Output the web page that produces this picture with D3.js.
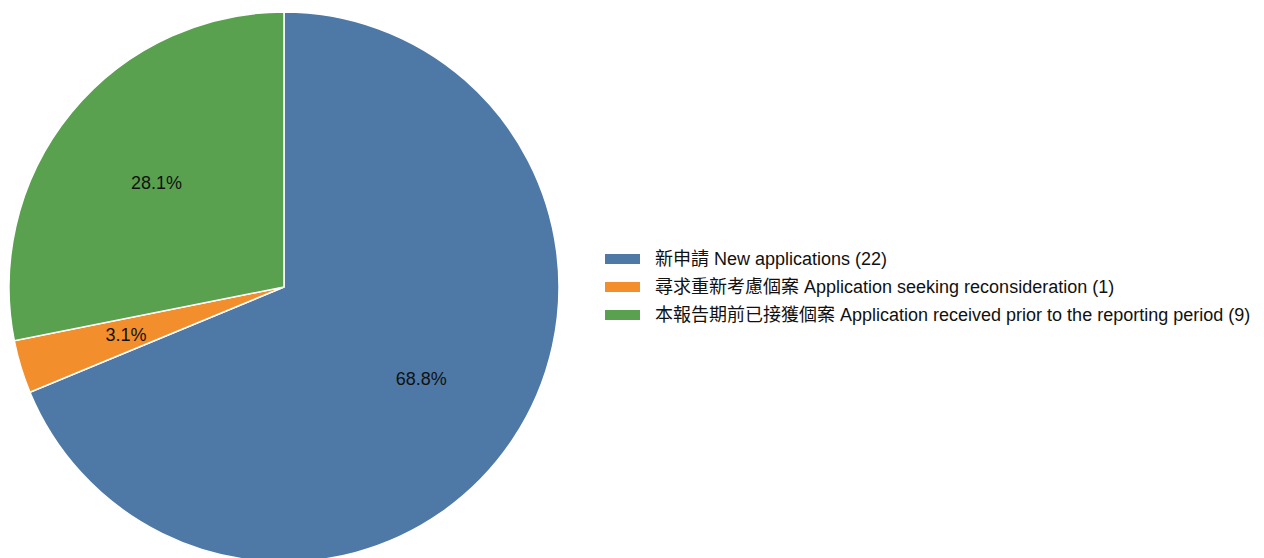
<!DOCTYPE html>
<html><head><meta charset="utf-8">
<script src="https://cdn.jsdelivr.net/npm/d3@7"></script>
<style>html,body{margin:0;padding:0;background:#fff;overflow:hidden}</style>
</head><body>
<svg id="c" width="1264" height="558"></svg>
<script>
const categories = ["新申請 New applications (22)", "尋求重新考慮個案 Application seeking reconsideration (1)", "本報告期前已接獲個案 Application received prior to the reporting period (9)"];
const values = [22, 1, 9];
const colors = ["#4e79a7", "#f28e2b", "#59a14f"];

const svg = d3.select("#c");
const cx = 284, cy = 287, R = 275;
const total = d3.sum(values);
const pie = d3.pie().sort(null).value(d => d);
const arcs = pie(values);
const arc = d3.arc().innerRadius(0).outerRadius(R);
const labelArc = d3.arc().innerRadius(R * 0.6).outerRadius(R * 0.6);
const g = svg.append("g").attr("transform", `translate(${cx},${cy})`);
g.selectAll("path").data(arcs).join("path")
  .attr("d", arc).attr("fill", (d, i) => colors[i])
  .attr("stroke", "#fff").attr("stroke-width", 1.5);
g.selectAll("text").data(arcs).join("text")
  .attr("transform", d => `translate(${labelArc.centroid(d)})`)
  .attr("text-anchor", "middle").attr("dy", "0.35em")
  .attr("font-family", "Liberation Sans, Arial, sans-serif").attr("font-size", 18)
  .attr("fill", "#111")
  .text(d => (d.value / total * 100).toFixed(1) + "%");

const lg = svg.append("g").attr("transform", "translate(605,259)");
const items = lg.selectAll("g").data(categories).join("g")
  .attr("transform", (d, i) => `translate(0,${i * 28})`);
items.append("rect").attr("x", 0).attr("y", -5).attr("width", 35).attr("height", 10)
  .attr("fill", (d, i) => colors[i]);
items.append("text").attr("x", 50).attr("dy", "0.35em")
  .attr("font-family", "Liberation Sans, 'Noto Sans CJK TC', sans-serif").attr("font-size", 18)
  .attr("fill", "#111").text(d => d);
</script>
</body></html>
